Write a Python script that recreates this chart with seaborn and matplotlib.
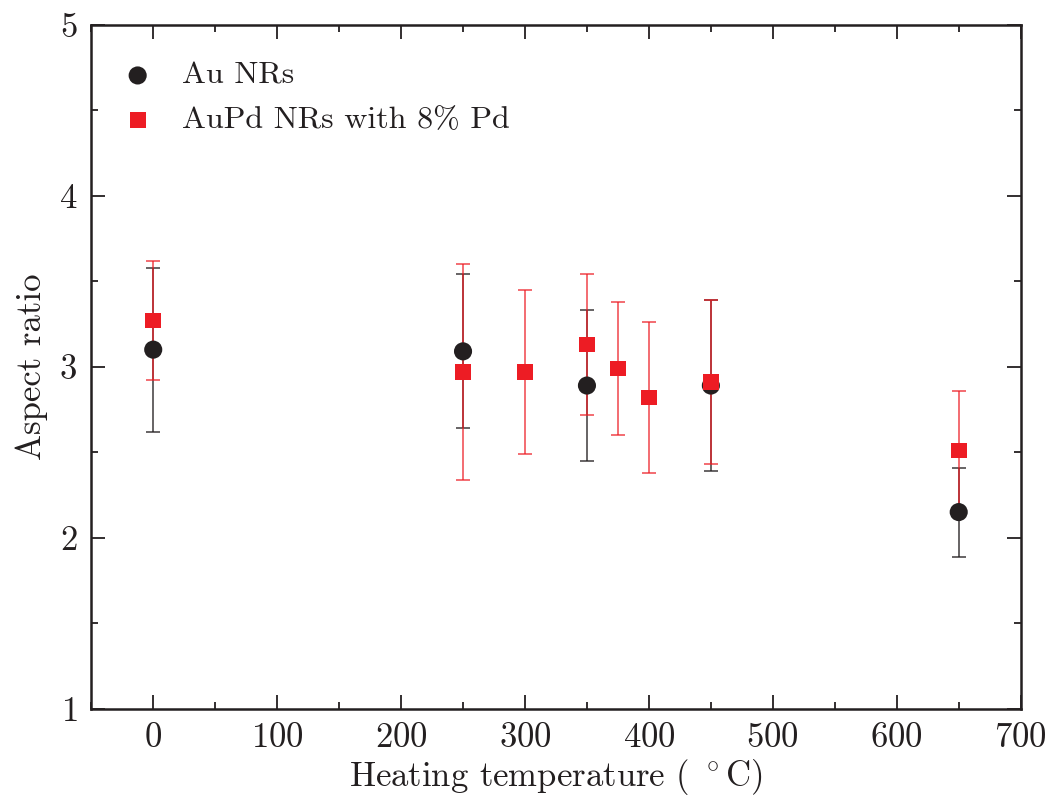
import numpy as np
import pandas as pd
import seaborn as sns
import matplotlib
matplotlib.use('Agg')
from matplotlib import pyplot as plt
from matplotlib.ticker import MultipleLocator

# 数据
au_temp = [0, 250, 350, 450, 650]
au_ratio = [3.10, 3.09, 2.89, 2.89, 2.15]
au_err = [0.48, 0.45, 0.44, 0.50, 0.26]

aupd_temp = [0, 250, 300, 350, 375, 400, 450, 650]
aupd_ratio = [3.27, 2.97, 2.97, 3.13, 2.99, 2.82, 2.91, 2.51]
aupd_err = [0.35, 0.63, 0.48, 0.41, 0.39, 0.44, 0.48, 0.35]

black = '#231f20'
red = '#ed1c24'

sns.set_style('ticks')
plt.rcParams['font.family'] = ['cmr10', 'DejaVu Serif']
plt.rcParams['mathtext.fontset'] = 'cm'
plt.rcParams['axes.formatter.use_mathtext'] = True
plt.rcParams['axes.unicode_minus'] = False

df_au = pd.DataFrame({'temp': au_temp, 'ratio': au_ratio, 'err': au_err})
df_pd = pd.DataFrame({'temp': aupd_temp, 'ratio': aupd_ratio, 'err': aupd_err})

fig = plt.figure(figsize=(10.49, 7.99), dpi=100)
ax = fig.add_axes([0.087, 0.113, 0.886, 0.856])

# 误差棒
ax.errorbar(df_au['temp'], df_au['ratio'], yerr=df_au['err'], fmt='none',
            ecolor=black, elinewidth=1.3, capsize=5, capthick=1.3, alpha=0.75, zorder=2)
ax.errorbar(df_pd['temp'], df_pd['ratio'], yerr=df_pd['err'], fmt='none',
            ecolor=red, elinewidth=1.3, capsize=5, capthick=1.3, alpha=0.7, zorder=3)

# 散点
sns.scatterplot(data=df_au, x='temp', y='ratio', ax=ax, marker='o', s=170,
                color=black, edgecolor='none', label='Au NRs', zorder=4)
sns.scatterplot(data=df_pd, x='temp', y='ratio', ax=ax, marker='s', s=130,
                color=red, edgecolor='none', label='AuPd NRs with 8% Pd', zorder=5)

ax.set_xlim(-50, 700)
ax.set_ylim(1, 5)
ax.xaxis.set_major_locator(MultipleLocator(100))
ax.xaxis.set_minor_locator(MultipleLocator(50))
ax.yaxis.set_major_locator(MultipleLocator(1))
ax.yaxis.set_minor_locator(MultipleLocator(0.5))
ax.tick_params(which='both', direction='in', top=True, right=True, labelsize=25,
               width=1.3, colors=black, pad=10)
ax.tick_params(which='major', length=10)
ax.tick_params(which='minor', length=5)
for sp in ax.spines.values():
    sp.set_linewidth(1.8)
    sp.set_color(black)

ax.set_xlabel(r'Heating temperature ( $^\circ$C)', fontsize=25, color=black, labelpad=2)
ax.set_ylabel('Aspect ratio', fontsize=25, color=black, labelpad=8)

leg = ax.legend(loc='upper left', frameon=False, fontsize=23, handlelength=1.0,
                handletextpad=0.9, borderaxespad=0.0, labelspacing=0.5,
                bbox_to_anchor=(0.019, 0.965))
for t in leg.get_texts():
    t.set_color(black)

fig.savefig('out.png', dpi=100)
